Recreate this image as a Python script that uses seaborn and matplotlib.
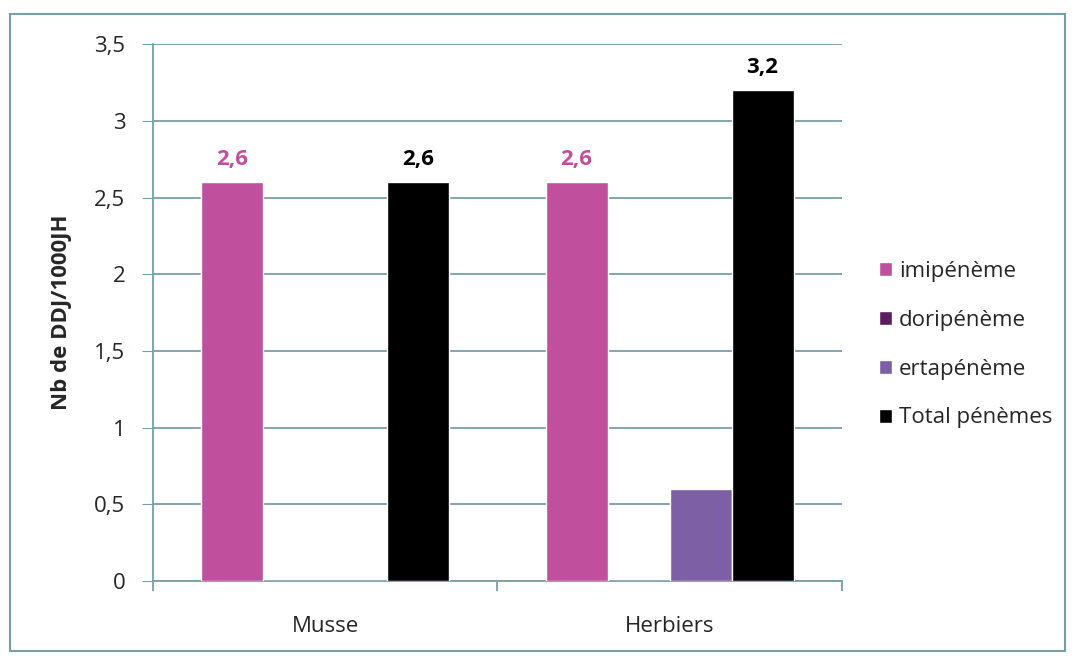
import pandas as pd
import matplotlib.pyplot as plt
import matplotlib.ticker as mticker
from matplotlib.patches import Rectangle
import seaborn as sns

# Data
sites = ['Musse', 'Herbiers']
drugs = ['imipénème', 'doripénème', 'ertapénème', 'Total pénèmes']
imipeneme = [2.6, 2.6]
doripeneme = [0, 0]
ertapeneme = [0, 0.6]
total_penemes = [2.6, 3.2]
colors = ['#C04F9E', '#5A1D5E', '#7D5FA6', '#000000']

rows = []
for drug, vals in zip(drugs, [imipeneme, doripeneme, ertapeneme, total_penemes]):
    for site, v in zip(sites, vals):
        rows.append({'site': site, 'drug': drug, 'value': v})
df = pd.DataFrame(rows)

sns.set_style('white')
plt.rcParams['font.family'] = ['Open Sans', 'DejaVu Sans']

fig = plt.figure(figsize=(10.75, 6.59), dpi=100)
ax = fig.add_axes([0.1423, 0.1184, 0.6407, 0.8146])

grid_col = '#7A9EA8'
sns.barplot(data=df, x='site', y='value', hue='drug', hue_order=drugs,
            palette=colors, width=0.72, saturation=1, ax=ax, zorder=3)

ax.set_ylim(0, 3.5)
ax.set_xlim(-0.5, 1.5)
ax.set_yticks([0, 0.5, 1, 1.5, 2, 2.5, 3, 3.5])
ax.yaxis.set_major_formatter(mticker.FuncFormatter(lambda v, p: f'{v:g}'.replace('.', ',')))
ax.grid(axis='y', color=grid_col, linewidth=1.3, zorder=0)
ax.set_axisbelow(True)

for side in ['top', 'right']:
    ax.spines[side].set_visible(False)
for side in ['left', 'bottom']:
    ax.spines[side].set_color(grid_col)
    ax.spines[side].set_linewidth(1.3)

ax.tick_params(axis='y', left=True, length=8, color=grid_col, labelsize=16, pad=12)
ax.set_xticks([0, 1])
ax.set_xticklabels(sites)
ax.tick_params(axis='x', bottom=False, labelsize=16, pad=22)
ax.xaxis.set_minor_locator(mticker.FixedLocator([-0.5, 0.5, 1.5]))
ax.tick_params(axis='x', which='minor', bottom=True, length=7, color=grid_col, width=1.3)

ax.set_xlabel('')
ax.set_ylabel('Nb de DDJ/1000JH', fontsize=16, fontweight='bold', labelpad=16)

# value labels on imipénème and total bars
for cont, col in [(ax.containers[0], colors[0]), (ax.containers[3], colors[3])]:
    labels = [f'{b.get_height():g}'.replace('.', ',') for b in cont]
    ax.bar_label(cont, labels=labels, padding=9, color=col, fontsize=16,
                 fontweight='bold')

ax.legend(loc='center left', bbox_to_anchor=(1.025, 0.44), frameon=False,
          fontsize=16, handlelength=0.6, handleheight=0.6, handletextpad=0.3,
          labelspacing=1.25)

# outer chart border
fig.patches.append(Rectangle((0.009, 0.012), 0.982, 0.967, transform=fig.transFigure,
                             fill=False, edgecolor=grid_col, linewidth=1.5))

fig.savefig('out.png', dpi=100)
